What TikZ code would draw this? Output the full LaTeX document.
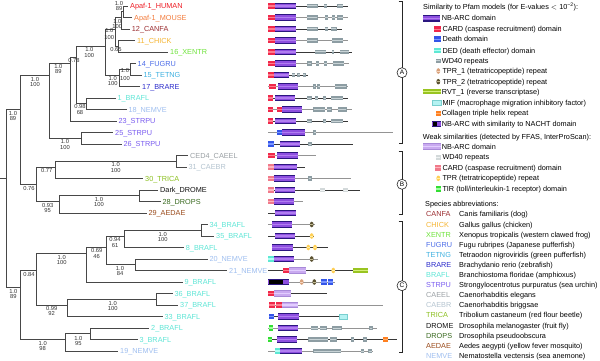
\documentclass[tikz,border=0pt]{standalone}
\usepackage{fontspec}
\setmainfont{Liberation Sans}
\definecolor{cHUMAN}{HTML}{EE1C24}
\definecolor{cMOUSE}{HTML}{F47C3C}
\definecolor{cCANFA}{HTML}{9B2D30}
\definecolor{cCHICK}{HTML}{F5B532}
\definecolor{cXENTR}{HTML}{6EE33A}
\definecolor{cFUGRU}{HTML}{4A6BE8}
\definecolor{cTETNG}{HTML}{3CB0E0}
\definecolor{cBRARE}{HTML}{2A2ACB}
\definecolor{cBRAFL}{HTML}{5EE6D6}
\definecolor{cNEMVE}{HTML}{9FBFF0}
\definecolor{cSTRPU}{HTML}{7A5CF0}
\definecolor{cCAEEL}{HTML}{9AA0A4}
\definecolor{cCAEBR}{HTML}{B4C4D0}
\definecolor{cTRICA}{HTML}{8CC020}
\definecolor{cDROME}{HTML}{111111}
\definecolor{cDROPS}{HTML}{3A6A20}
\definecolor{cAEDAE}{HTML}{9A4A1A}
% domain colours
\definecolor{cNBD}{HTML}{2B1680}
\definecolor{cNBP}{HTML}{8E4FE0}
\definecolor{cNBPH}{HTML}{B07EF0}
\definecolor{cWNBD}{HTML}{A88AD8}
\definecolor{cWNBP}{HTML}{C9AAF0}
\definecolor{cWNBPH}{HTML}{E2CEFF}
\definecolor{cCARD}{HTML}{F0284A}
\definecolor{cCARDH}{HTML}{FF7A8C}
\definecolor{cWCARD}{HTML}{F07A8A}
\definecolor{cWCARDH}{HTML}{FFB4BE}
\definecolor{cDEATH}{HTML}{3355E8}
\definecolor{cDEATHH}{HTML}{7A95FF}
\definecolor{cDED}{HTML}{5EE8D4}
\definecolor{cDEDH}{HTML}{B0FFF4}
\definecolor{cWD}{HTML}{8D9DA3}
\definecolor{cWDH}{HTML}{C8D3D6}
\definecolor{cWWD}{HTML}{D3D9DA}
\definecolor{cWWDH}{HTML}{F0F3F3}
\definecolor{cTPRa}{HTML}{D8A07A}
\definecolor{cTPRaH}{HTML}{F4D4BC}
\definecolor{cTPRb}{HTML}{5B5232}
\definecolor{cTPRbH}{HTML}{C0B890}
\definecolor{cWTPR}{HTML}{FFCF55}
\definecolor{cWTPRH}{HTML}{FFF0A8}
\definecolor{cRVT}{HTML}{99C421}
\definecolor{cRVTH}{HTML}{D6F07A}
\definecolor{cMIF}{HTML}{B4F2F2}
\definecolor{cMIFD}{HTML}{78CFCF}
\definecolor{cCOL}{HTML}{FF8020}
\definecolor{cCOLH}{HTML}{FFB070}
\definecolor{cTIR}{HTML}{33DD33}
\definecolor{cTIRH}{HTML}{9CFF9C}
\tikzset{
 tl/.style={draw=black!72, line width=0.55pt},
 lf/.style={anchor=west, inner sep=0pt, font=\fontsize{7.3}{8}\selectfont, text height=5.2pt, text depth=0pt},
 sv/.style={inner sep=0pt, font=\fontsize{5.8}{6}\selectfont, text=black!80},
 lg/.style={anchor=west, inner sep=0pt, font=\fontsize{7.3}{8}\selectfont, text height=5.2pt, text depth=0pt},
 dk/.style={draw=black!78, line width=0.8pt},
 gy/.style={draw=black!42, line width=0.8pt},
 brk/.style={draw=black!85, line width=0.6pt},
 circ/.style={circle, draw=black!85, line width=0.6pt, fill=white, inner sep=0pt, minimum size=10pt, font=\fontsize{6.5}{7}\selectfont},
}
\newcommand{\Dln}[4]{\draw[#1] (#2,#4) -- (#3,#4);}
\newcommand{\Dbx}[4]{\fill[#1] (#2,#4-2.8) rectangle (#3,#4+2.8); \fill[#1H] (#2,#4-0.6) rectangle (#3,#4+0.6);}
\newcommand{\Dwd}[4]{\fill[#1] (#2,#4-2.3) rectangle (#3,#4+2.3); \fill[#1H] (#2+0.4,#4-0.5) rectangle (#3-0.4,#4+0.5);}
\newcommand{\Dnb}[3]{\fill[cNBP] (#1,#3-3.3) rectangle (#2,#3+3.3); \fill[cNBD] (#1,#3-3.3) rectangle (#2,#3-2.1); \fill[cNBD] (#1,#3+2.1) rectangle (#2,#3+3.3); \fill[cNBPH] (#1,#3-0.6) rectangle (#2,#3+0.6);}
\newcommand{\Dwnb}[3]{\fill[cWNBP] (#1,#3-3.3) rectangle (#2,#3+3.3); \fill[cWNBD] (#1,#3-3.3) rectangle (#2,#3-2.3); \fill[cWNBD] (#1,#3+2.3) rectangle (#2,#3+3.3); \fill[cWNBPH] (#1,#3-0.6) rectangle (#2,#3+0.6);}
\newcommand{\Dnacht}[4]{\fill[cNBP] (#1,#4-3.3) rectangle (#3,#4+3.3); \fill[black] (#1+1,#4-2.2) rectangle (#2,#4+2.2); \fill[cNBD] (#1,#4-3.3) rectangle (#3,#4-2.1); \fill[cNBD] (#1,#4+2.1) rectangle (#3,#4+3.3);}
\newcommand{\Dov}[3]{\fill[#1] (#2,#3) ellipse (1.9pt and 2.8pt); \fill[#1H] (#2-1.3,#3-0.45) rectangle (#2+1.3,#3+0.45);}
\newcommand{\Dmif}[3]{\fill[cMIF,draw=cMIFD,line width=0.4pt] (#1,#3-2.8) rectangle (#2,#3+2.8);}
\begin{document}
\begin{tikzpicture}[x=1pt,y=-1pt]
\useasboundingbox (0,0) rectangle (600,361);
\fill[white] (0,0) rectangle (600,361);
% ---------------- internal nodes
\coordinate (r0) at (0,178.5);
\coordinate (root) at (6.7,178.5);
\coordinate (nAB) at (20.7,109.5);
\coordinate (nGA) at (49.3,75.25);
\coordinate (n089) at (70,63.5);
\coordinate (n078) at (76.7,57.75);
\coordinate (nVert) at (105,46.25);
\coordinate (nTet) at (115,29);
\coordinate (nHMC) at (121,17.5);
\coordinate (nHM) at (123.5,11.75);
\coordinate (nCX) at (118.3,46.25);
\coordinate (nFish) at (119,75);
\coordinate (nFT) at (130,69.25);
\coordinate (n118) at (86,103.75);
\coordinate (n2526) at (81,138.25);
\coordinate (nGB) at (36,184.25);
\coordinate (n077) at (55,167);
\coordinate (nCAE) at (176.7,161.25);
\coordinate (n093) at (59.3,201.5);
\coordinate (nDD) at (139.3,195.75);
\coordinate (nGC) at (20.7,287.75);
\coordinate (N84) at (36.7,270.5);
\coordinate (N100) at (86.7,253.25);
\coordinate (N69) at (106,247.5);
\coordinate (N94) at (124,236);
\coordinate (N3435) at (201.7,230.25);
\coordinate (N2021) at (135,264.75);
\coordinate (N99) at (67.7,305);
\coordinate (N3637) at (156.7,299.25);
\coordinate (N98) at (65,339.5);
\coordinate (N23) at (90.7,333.75);
% ---------------- leaf labels
\node[lf,text=cHUMAN] (LHUMAN) at (130,6) {Apaf-1\_HUMAN};
\node[lf,text=cMOUSE] (LMOUSE) at (134,17.5) {Apaf-1\_MOUSE};
\node[lf,text=cCANFA] (LCANFA) at (131.7,29) {12\_CANFA};
\node[lf,text=cCHICK] (LCHICK) at (137,40.5) {11\_CHICK};
\node[lf,text=cXENTR] (LXENTR) at (170,52) {16\_XENTR};
\node[lf,text=cFUGRU] (LFUGRU) at (137.5,63.5) {14\_FUGRU};
\node[lf,text=cTETNG] (LTETNG) at (143.3,75) {15\_TETNG};
\node[lf,text=cBRARE] (LBRARE) at (142,86.5) {17\_BRARE};
\node[lf,text=cBRAFL] (L1) at (117.3,98) {1\_BRAFL};
\node[lf,text=cNEMVE] (L18) at (128.3,109.5) {18\_NEMVE};
\node[lf,text=cSTRPU] (L23) at (118.3,121) {23\_STRPU};
\node[lf,text=cSTRPU] (L25) at (115,132.5) {25\_STRPU};
\node[lf,text=cSTRPU] (L26) at (123.3,144) {26\_STRPU};
\node[lf,text=cCAEEL] (LCED4) at (190,155.5) {CED4\_CAEEL};
\node[lf,text=cCAEBR] (L31) at (188.3,167) {31\_CAEBR};
\node[lf,text=cTRICA] (LTRICA) at (145,178.5) {30\_TRICA};
\node[lf,text=cDROME] (LDROME) at (160,190) {Dark\_DROME};
\node[lf,text=cDROPS] (LDROPS) at (162.3,201.5) {28\_DROPS};
\node[lf,text=cAEDAE] (LAEDAE) at (148.3,213) {29\_AEDAE};
\node[lf,text=cBRAFL] (L34) at (209.3,224.5) {34\_BRAFL};
\node[lf,text=cBRAFL] (L35) at (216,236) {35\_BRAFL};
\node[lf,text=cBRAFL] (L8) at (185.7,247.5) {8\_BRAFL};
\node[lf,text=cNEMVE] (L20) at (209.3,259) {20\_NEMVE};
\node[lf,text=cNEMVE] (L21) at (229,270.5) {21\_NEMVE};
\node[lf,text=cBRAFL] (L9) at (184.3,282) {9\_BRAFL};
\node[lf,text=cBRAFL] (L36) at (174.3,293.5) {36\_BRAFL};
\node[lf,text=cBRAFL] (L37) at (180,305) {37\_BRAFL};
\node[lf,text=cBRAFL] (L33) at (164.3,316.5) {33\_BRAFL};
\node[lf,text=cBRAFL] (L2) at (151,328) {2\_BRAFL};
\node[lf,text=cBRAFL] (L3) at (139.3,339.5) {3\_BRAFL};
\node[lf,text=cNEMVE] (L19) at (120,351) {19\_NEMVE};
% ---------------- tree edges
\draw[tl] (r0) -- (root);
\draw[tl] (root) |- (nAB); \draw[tl] (root) |- (nGC);
\draw[tl] (nAB) |- (nGA); \draw[tl] (nAB) |- (nGB);
\draw[tl] (nGA) |- (n089); \draw[tl] (nGA) |- (n2526);
\draw[tl] (n089) |- (n078);
\draw[tl] (n078) |- (nVert); \draw[tl] (n078) |- (n118);
\draw[tl] (nVert) |- (nTet); \draw[tl] (nVert) |- (nFish);
\draw[tl] (nTet) |- (nHMC); \draw[tl] (nTet) |- (nCX);
\draw[tl] (nHMC) |- (nHM);
\draw[tl] (nFish) |- (nFT);
\draw[tl] (nGB) |- (n077); \draw[tl] (nGB) |- (n093);
\draw[tl] (n077) |- (nCAE);
\draw[tl] (n093) |- (nDD);
\draw[tl] (nGC) |- (N84); \draw[tl] (nGC) |- (N98);
\draw[tl] (N84) |- (N100); \draw[tl] (N84) |- (N99);
\draw[tl] (N100) |- (N69);
\draw[tl] (N69) |- (N94); \draw[tl] (N69) |- (N2021);
\draw[tl] (N94) |- (N3435);
\draw[tl] (N99) |- (N3637);
\draw[tl] (N98) |- (N23);
\begin{scope}[shorten >=1.6pt]
\draw[tl] (nHM) |- (LHUMAN.west); \draw[tl] (nHM) |- (LMOUSE.west);
\draw[tl] (nHMC) |- (LCANFA.west);
\draw[tl] (nCX) |- (LCHICK.west); \draw[tl] (nCX) |- (LXENTR.west);
\draw[tl] (nFT) |- (LFUGRU.west); \draw[tl] (nFT) |- (LTETNG.west);
\draw[tl] (nFish) |- (LBRARE.west);
\draw[tl] (n118) |- (L1.west); \draw[tl] (n118) |- (L18.west);
\draw[tl] (n089) |- (L23.west);
\draw[tl] (n2526) |- (L25.west); \draw[tl] (n2526) |- (L26.west);
\draw[tl] (nCAE) |- (LCED4.west); \draw[tl] (nCAE) |- (L31.west);
\draw[tl] (n077) |- (LTRICA.west);
\draw[tl] (nDD) |- (LDROME.west); \draw[tl] (nDD) |- (LDROPS.west);
\draw[tl] (n093) |- (LAEDAE.west);
\draw[tl] (N3435) |- (L34.west); \draw[tl] (N3435) |- (L35.west);
\draw[tl] (N94) |- (L8.west);
\draw[tl] (N2021) |- (L20.west); \draw[tl] (N2021) |- (L21.west);
\draw[tl] (N100) |- (L9.west);
\draw[tl] (N3637) |- (L36.west); \draw[tl] (N3637) |- (L37.west);
\draw[tl] (N99) |- (L33.west);
\draw[tl] (N23) |- (L2.west); \draw[tl] (N23) |- (L3.west);
\draw[tl] (N98) |- (L19.west);
\end{scope}
% ---------------- support values
\node[sv] (s1a) at (119,4) {1.0}; \node[sv] (s1b) at (119,9) {89};
\node[sv] (s2a) at (117.3,21.7) {1.0}; \node[sv] (s2b) at (117.3,26.7) {100};
\node[sv] (s3a) at (109.3,31) {1.0}; \node[sv] (s3b) at (109.3,37.7) {100};
\node[sv] (s4a) at (116,50) {0.65};
\node[sv] (s5a) at (125,71) {1.0}; \node[sv] (s5b) at (125,78.3) {100};
\node[sv] (s6a) at (112.7,78.6) {1.0}; \node[sv] (s6b) at (112.7,83.6) {100};
\node[sv] (s7a) at (89.3,50) {1.0}; \node[sv] (s7b) at (89.3,56) {100};
\node[sv] (s8a) at (74,61) {0.78};
\node[sv] (s9a) at (58.3,66.5) {1.0}; \node[sv] (s9b) at (58.3,71.5) {89};
\node[sv] (s10a) at (35,79.3) {1.0}; \node[sv] (s10b) at (35,85) {100};
\node[sv] (s11a) at (80,106.7) {0.98}; \node[sv] (s11b) at (80,112.7) {68};
\node[sv] (s12a) at (13,113.3) {1.0}; \node[sv] (s12b) at (13,118.6) {89};
\node[sv] (s13a) at (65,141.7) {1.0}; \node[sv] (s13b) at (65,147.3) {100};
\node[sv] (s14a) at (115.7,165) {1.0}; \node[sv] (s14b) at (115.7,170.7) {100};
\node[sv] (s15a) at (46.7,171) {0.77};
\node[sv] (s16a) at (29,188.3) {0.76};
\node[sv] (s17a) at (99,200) {1.0}; \node[sv] (s17b) at (99,205) {100};
\node[sv] (s18a) at (47.7,205.5) {0.93}; \node[sv] (s18b) at (47.7,210.5) {95};
\node[sv] (s19a) at (162.7,235) {1.0}; \node[sv] (s19b) at (162.7,240) {100};
\node[sv] (s20a) at (115,240) {0.94}; \node[sv] (s20b) at (115,245.7) {61};
\node[sv] (s21a) at (96.7,250.7) {0.69}; \node[sv] (s21b) at (96.7,256.7) {46};
\node[sv] (s22a) at (61.7,257.3) {1.0}; \node[sv] (s22b) at (61.7,263) {100};
\node[sv] (s23a) at (120,268.2) {1.0}; \node[sv] (s23b) at (120,273.3) {84};
\node[sv] (s24a) at (29,274.5) {0.84};
\node[sv] (s25a) at (13.3,291.7) {1.0}; \node[sv] (s25b) at (13.3,296.7) {89};
\node[sv] (s26a) at (112.7,303.3) {1.0}; \node[sv] (s26b) at (112.7,308.3) {100};
\node[sv] (s27a) at (51.7,308.7) {0.99}; \node[sv] (s27b) at (51.7,314) {92};
\node[sv] (s28a) at (78.3,338.3) {1.0}; \node[sv] (s28b) at (78.3,343.3) {95};
\node[sv] (s29a) at (42.7,343.5) {1.0}; \node[sv] (s29b) at (42.7,348.6) {98};
% ---------------- domain architectures
\Dln{dk}{268.3}{348}{6}
\Dbx{cCARD}{268.3}{275}{6}\Dnb{275}{295.7}{6}
\Dwd{cWD}{306.7}{317.7}{6}\Dwd{cWD}{324}{327.3}{6}\Dwd{cWD}{337.3}{343.3}{6}
\Dln{gy}{268.3}{348}{17.5}
\Dbx{cCARD}{268.3}{275}{17.5}\Dnb{275}{295.7}{17.5}
\Dwd{cWD}{306.7}{317.7}{17.5}\Dwd{cWD}{325}{328.3}{17.5}\Dwd{cWD}{331.7}{335}{17.5}\Dwd{cWD}{337.3}{343.3}{17.5}
\Dln{dk}{268.3}{341.7}{29}
\Dbx{cCARD}{268.3}{275}{29}\Dnb{275}{295.7}{29}
\Dwd{cWD}{306.7}{317.7}{29}\Dwd{cWD}{325}{328.3}{29}\Dwd{cWD}{330.7}{336.7}{29}
\Dln{gy}{268.3}{348}{40.5}
\Dbx{cCARD}{268.3}{275}{40.5}\Dnb{275}{295.7}{40.5}
\Dwd{cWD}{306.7}{317.7}{40.5}\Dwd{cWD}{331.7}{343}{40.5}
\Dln{dk}{268.3}{352}{52}
\Dbx{cCARD}{268.3}{275}{52}\Dnb{275}{295.7}{52}
\Dwd{cWD}{315}{326}{52}\Dwd{cWD}{331.7}{334.3}{52}\Dwd{cWD}{340}{349}{52}
\Dln{gy}{268.3}{349}{63.5}
\Dbx{cCARD}{268.3}{275}{63.5}\Dnb{275}{295.7}{63.5}
\Dwd{cWD}{307.3}{311.7}{63.5}\Dwd{cWD}{316}{319}{63.5}\Dwd{cWD}{324}{327}{63.5}\Dwd{cWD}{332.7}{344}{63.5}
\Dln{dk}{268.3}{308.3}{75}
\Dbx{cCARD}{268.3}{274.3}{75}\Dnb{274.3}{289}{75}
\Dwd{cWD}{291.7}{295}{75}\Dwd{cWD}{297.3}{300.3}{75}\Dwd{cWD}{302.7}{305.7}{75}
\Dln{gy}{268}{348.3}{86.5}
\Dbx{cCARD}{269}{275.5}{86.5}\Dnb{277.7}{298.3}{86.5}
\Dwd{cWD}{313.3}{315.7}{86.5}\Dwd{cWD}{317.3}{320}{86.5}\Dwd{cWD}{335}{346.7}{86.5}
\Dln{dk}{268}{348}{98}
\Dbx{cCARD}{267.7}{273.3}{98}\Dnb{275}{295}{98}
\Dwd{cWD}{306.7}{311.7}{98}\Dwd{cWD}{315}{318.3}{98}\Dwd{cWD}{323.3}{326}{98}\Dwd{cWD}{330.7}{343}{98}
\Dln{gy}{268}{351.7}{109.5}
\Dbx{cCARD}{268}{273.3}{109.5}\Dbx{cCARD}{276.7}{281.7}{109.5}\Dnb{281.7}{301.7}{109.5}
\Dwd{cWD}{313.3}{325}{109.5}\Dwd{cWD}{326.7}{331.7}{109.5}\Dwd{cWD}{337.7}{346.7}{109.5}
\Dln{dk}{268.3}{348}{121}
\Dbx{cCARD}{268.3}{273.3}{121}\Dnb{275}{295.7}{121}
\Dwd{cWD}{306.7}{311.7}{121}\Dwd{cWD}{323.3}{326}{121}\Dwd{cWD}{330.7}{343.3}{121}
\Dln{gy}{268.3}{393}{132.5}
\Dbx{cDEATH}{277.3}{282.3}{132.5}\Dnb{282.3}{305}{132.5}
\Dwd{cWD}{313.3}{316}{132.5}
\Dln{dk}{268.3}{353}{144}
\Dbx{cDEATH}{268.3}{274}{144}\Dnb{280}{300}{144}
\Dwd{cWD}{308.3}{311.7}{144}
\Dln{gy}{268.3}{315.7}{155.5}
\Dbx{cCARD}{268.3}{275}{155.5}\Dnb{276.7}{298.3}{155.5}
\Dln{dk}{268.3}{305}{167}
\Dbx{cWCARD}{268.3}{274}{167}\Dnb{274}{296.7}{167}
\Dln{gy}{268.3}{350.7}{178.5}
\Dbx{cWCARD}{268.3}{274}{178.5}\Dnb{274}{295}{178.5}
\Dwd{cWD}{308.3}{311.7}{178.5}
\Dln{dk}{268.3}{360}{190}
\Dbx{cWCARD}{268.3}{274}{190}\Dnb{275}{295}{190}
\Dwd{cWWD}{320}{325}{190}\Dwd{cWWD}{343.3}{348.3}{190}
\Dln{gy}{268.3}{302.7}{201.5}
\Dbx{cWCARD}{268.3}{274}{201.5}\Dnb{274}{294}{201.5}
\Dln{dk}{268.3}{280}{213}
\Dnb{275}{295.7}{213}
\Dln{gy}{268.3}{315}{224.5}
\Dnb{271.7}{292.3}{224.5}
\Dov{cTPRb}{311.7}{224.5}
\Dln{dk}{268.3}{313.5}{236}
\Dnb{275}{295}{236}
\Dov{cWTPR}{311.7}{236}
\Dln{dk}{272.3}{327.7}{247.5}
\Dnb{272.3}{293.3}{247.5}
\Dov{cWTPR}{308.3}{247.5}\Dov{cWTPR}{315}{247.5}
\Dln{gy}{268.3}{317.7}{259}
\Dbx{cDED}{268.3}{274}{259}\Dnb{274}{294}{259}
\Dov{cTPRb}{311.7}{259}
\Dln{dk}{268.3}{355}{270.5}
\Dbx{cCARD}{283.3}{289}{270.5}\Dwnb{289}{305.7}{270.5}
\Dov{cWTPR}{333.3}{270.5}
\Dbx{cRVT}{353.3}{368.3}{270.5}
\Dln{gy}{268.3}{335}{282}
\Dnacht{268.3}{283.3}{289}{282}
\Dov{cTPRa}{301.7}{282}\Dov{cTPRb}{314.3}{282}
\Dbx{cDEATH}{320.7}{326.7}{282}\Dbx{cDEATH}{327.7}{333.3}{282}
\Dln{dk}{268.3}{327.3}{293.5}
\Dbx{cCARD}{268.3}{274.3}{293.5}\Dwnb{274.3}{291}{293.5}
\Dln{gy}{269}{383}{305}
\Dbx{cCARD}{269}{275}{305}\Dbx{cCARD}{276}{281.7}{305}\Dwnb{281.7}{298.3}{305}
\Dln{dk}{269}{340}{316.5}
\Dbx{cDEATH}{269}{274.3}{316.5}\Dnb{277.7}{299}{316.5}
\Dmif{339}{346.7}{316.5}
\Dln{gy}{268.3}{376.7}{328}
\Dbx{cTIR}{269}{273.3}{328}\Dnb{277.7}{298.3}{328}
\Dwd{cWD}{311}{318.3}{328}\Dwd{cWD}{320}{326.7}{328}\Dwd{cWD}{332.3}{341.7}{328}\Dwd{cWD}{369.3}{372.7}{328}
\Dln{dk}{268.3}{397}{339.5}
\Dbx{cTIR}{268.3}{272.3}{339.5}\Dnb{276.7}{297.3}{339.5}
\Dwd{cWD}{308.3}{328.3}{339.5}\Dwd{cWD}{330}{336.7}{339.5}\Dwd{cWD}{351.3}{354}{339.5}\Dwd{cWD}{363.3}{366.7}{339.5}
\Dbx{cCOL}{383.3}{388.3}{339.5}
\Dln{gy}{268.3}{373}{351}
\Dbx{cDED}{275}{280}{351}\Dnb{280}{301.7}{351}
\Dwd{cWD}{313.3}{341}{351}\Dwd{cWD}{360.7}{364}{351}\Dwd{cWD}{368.3}{372.3}{351}
% ---------------- brackets
\draw[brk] (398.5,1.7) -- (402,1.7) -- (402,143.7) -- (398.5,143.7);
\draw[brk] (398.5,151.7) -- (402,151.7) -- (402,214.3) -- (398.5,214.3);
\draw[brk] (398.5,221) -- (402,221) -- (402,352.3) -- (398.5,352.3);
\node[circ] (cA) at (402,72.7) {A};
\node[circ] (cB) at (402,184.3) {B};
\node[circ] (cC) at (402,285.7) {C};
% ---------------- legend
\node[lg] (h1) at (423,7.3) {Similarity to Pfam models (for E-values $<$ 10\textsuperscript{−2}):};
\Dnb{422.7}{440}{18.3} \node[lg] (g1) at (441.7,18.3) {NB-ARC domain};
\Dbx{cCARD}{434}{440.7}{29.3} \node[lg] (g2) at (442.3,29.3) {CARD (caspase recruitment) domain};
\Dbx{cDEATH}{434}{440.7}{39.3} \node[lg] (g3) at (442.3,39.3) {Death domain};
\Dbx{cDED}{434}{440.7}{50.7} \node[lg] (g4) at (442.3,50.7) {DED (death effector) domain};
\Dwd{cWD}{436}{440.7}{61} \node[lg] (g5) at (441.7,61) {WD40 repeats};
\Dov{cTPRa}{438.3}{71} \node[lg] (g6) at (442.3,71) {TPR\_1 (tetratricopeptide) repeat};
\Dov{cTPRb}{438.3}{81.7} \node[lg] (g7) at (442.3,81.7) {TPR\_2 (tetratricopeptide) repeat};
\Dbx{cRVT}{422.7}{440.7}{91.7} \node[lg] (g8) at (441.7,91.7) {RVT\_1 (reverse transcriptase)};
\Dmif{431.7}{440.7}{102.7} \node[lg] (g9) at (442.3,102.7) {MIF (macrophage migration inhibitory factor)};
\Dbx{cCOL}{436}{440.7}{113.3} \node[lg] (g10) at (441.7,113.3) {Collagen triple helix repeat};
\Dnacht{431.7}{437}{440.7}{124} \node[lg] (g11) at (441.7,124) {NB-ARC with similarity to NACHT domain};
\node[lg] (h2) at (422.7,136.7) {Weak similarities (detected by FFAS, InterProScan):};
\Dwnb{422.7}{440.7}{146.7} \node[lg] (w1) at (441.7,146.7) {NB-ARC domain};
\Dwd{cWWD}{436}{440.7}{157.3} \node[lg] (w2) at (442.3,157.3) {WD40 repeats};
\Dbx{cWCARD}{434.7}{440.7}{167.7} \node[lg] (w3) at (442.3,167.7) {CARD (caspase recruitment) domain};
\Dov{cWTPR}{438.3}{178.3} \node[lg] (w4) at (442.3,178.3) {TPR (tetratricopeptide) repeat};
\Dbx{cTIR}{436}{440.7}{189} \node[lg] (w5) at (442.3,189) {TIR (toll/interleukin-1 receptor) domain};
\node[lg] (h3) at (425,204.3) {Species abbreviations:};
\node[lg,text=cCANFA] (a1) at (426,214.3) {CANFA}; \node[lg] (d1) at (459,214.3) {Canis familiaris (dog)};
\node[lg,text=cCHICK] (a2) at (426,224.4) {CHICK}; \node[lg] (d2) at (459,224.4) {Gallus gallus (chicken)};
\node[lg,text=cXENTR] (a3) at (426,234.5) {XENTR}; \node[lg] (d3) at (459,234.5) {Xenopus tropicalis (western clawed frog)};
\node[lg,text=cFUGRU] (a4) at (426,244.6) {FUGRU}; \node[lg] (d4) at (459,244.6) {Fugu rubripes (Japanese pufferfish)};
\node[lg,text=cTETNG] (a5) at (426,254.7) {TETNG}; \node[lg] (d5) at (459,254.7) {Tetraodon nigroviridis (green pufferfish)};
\node[lg,text=cBRARE] (a6) at (426,264.8) {BRARE}; \node[lg] (d6) at (459,264.8) {Brachydanio rerio (zebrafish)};
\node[lg,text=cBRAFL] (a7) at (426,274.9) {BRAFL}; \node[lg] (d7) at (459,274.9) {Branchiostoma floridae (amphioxus)};
\node[lg,text=cSTRPU] (a8) at (426,285) {STRPU}; \node[lg] (d8) at (459,285) {Strongylocentrotus purpuratus (sea urchin)};
\node[lg,text=cCAEEL] (a9) at (426,295.1) {CAEEL}; \node[lg] (d9) at (459,295.1) {Caenorhabditis elegans};
\node[lg,text=cCAEBR] (a10) at (426,305.2) {CAEBR}; \node[lg] (d10) at (459,305.2) {Caenorhabditis briggsae};
\node[lg,text=cTRICA] (a11) at (426,315.3) {TRICA}; \node[lg] (d11) at (459,315.3) {Tribolium castaneum (red flour beetle)};
\node[lg,text=cDROME] (a12) at (426,325.4) {DROME}; \node[lg] (d12) at (459,325.4) {Drosophila melanogaster (fruit fly)};
\node[lg,text=cDROPS] (a13) at (426,335.5) {DROPS}; \node[lg] (d13) at (459,335.5) {Drosophila pseudoobscura};
\node[lg,text=cAEDAE] (a14) at (426,345.6) {AEDAE}; \node[lg] (d14) at (459,345.6) {Aedes aegypti (yellow fever mosquito)};
\node[lg,text=cNEMVE] (a15) at (426,355.7) {NEMVE}; \node[lg] (d15) at (459,355.7) {Nematostella vectensis (sea anemone)};
\end{tikzpicture}
\end{document}
